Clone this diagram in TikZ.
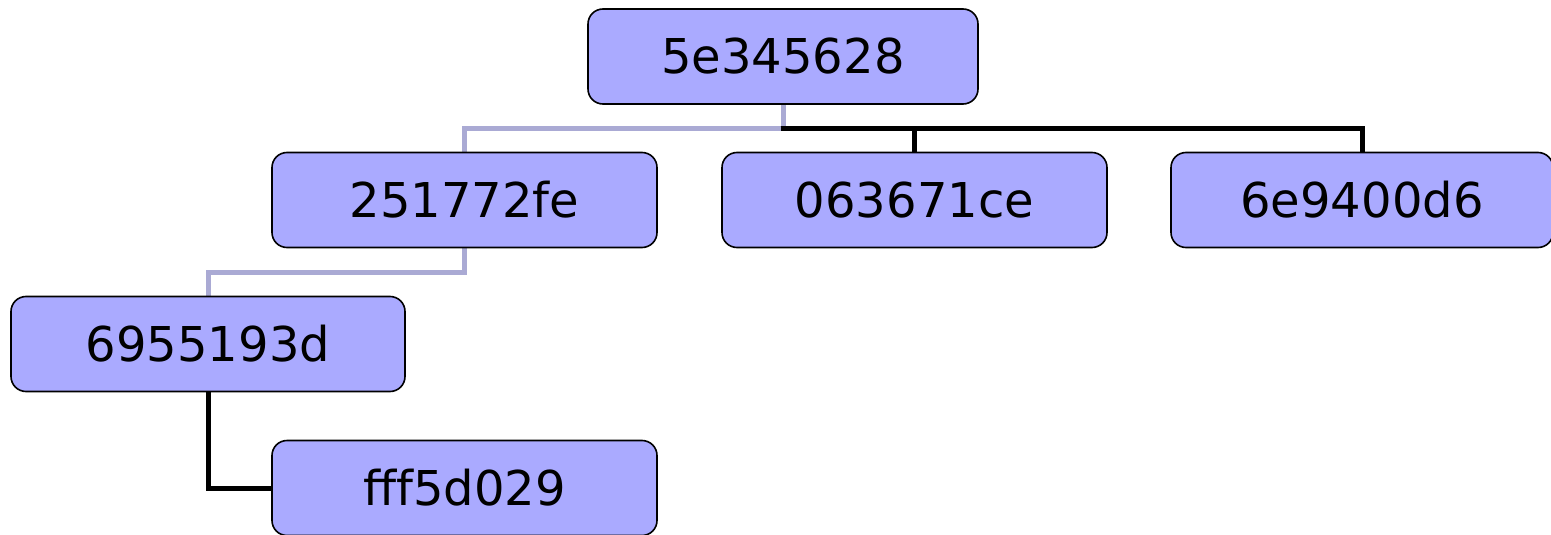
\documentclass[tikz,border=0pt]{standalone}
\usepackage{fontspec}
\setmainfont{DejaVu Sans}
\definecolor{boxfill}{RGB}{170,170,255}
\definecolor{lightline}{RGB}{170,170,212}
\begin{document}
\begin{tikzpicture}[x=1pt,y=-1pt,
  hashbox/.style={draw=black, line width=1.6pt, fill=boxfill, rounded corners=15pt,
    minimum height=95pt, inner sep=0pt, font=\fontsize{48}{57}\selectfont},
  lightedge/.style={draw=lightline, line width=5pt},
  darkedge/.style={draw=black, line width=5pt}]
\useasboundingbox (0,0) rectangle (1551,535);
% connectors first
\node[hashbox, minimum width=390pt, draw=none, fill=none] (r) at (783,56.5) {};
\node[hashbox, minimum width=385pt, draw=none, fill=none] (a) at (464.5,200) {};
\node[hashbox, minimum width=385pt, draw=none, fill=none] (b) at (914.5,200) {};
\node[hashbox, minimum width=382pt, draw=none, fill=none] (c) at (1362,200) {};
\node[hashbox, minimum width=394pt, draw=none, fill=none] (d) at (208,344) {};
\node[hashbox, minimum width=385pt, draw=none, fill=none] (e) at (464.5,488) {};
\draw[lightedge] (r.south) -- ++(0,24) -| (a.north);
\draw[lightedge] (a.south) -- ++(0,24) -| (d.north);
\draw[darkedge] (r.south) ++(-2.5,24) -| (b.north);
\draw[darkedge] (r.south) ++(-2.5,24) -| (c.north);
\draw[darkedge] (d.south) |- (e.west);
% boxes
\node[hashbox, minimum width=390pt] at (783,56.5) {5e345628};
\node[hashbox, minimum width=385pt] at (464.5,200) {251772fe};
\node[hashbox, minimum width=385pt] at (914.5,200) {063671ce};
\node[hashbox, minimum width=382pt] at (1362,200) {6e9400d6};
\node[hashbox, minimum width=394pt] at (208,344) {6955193d};
\node[hashbox, minimum width=385pt] at (464.5,488) {fff5d029};
\end{tikzpicture}
\end{document}
